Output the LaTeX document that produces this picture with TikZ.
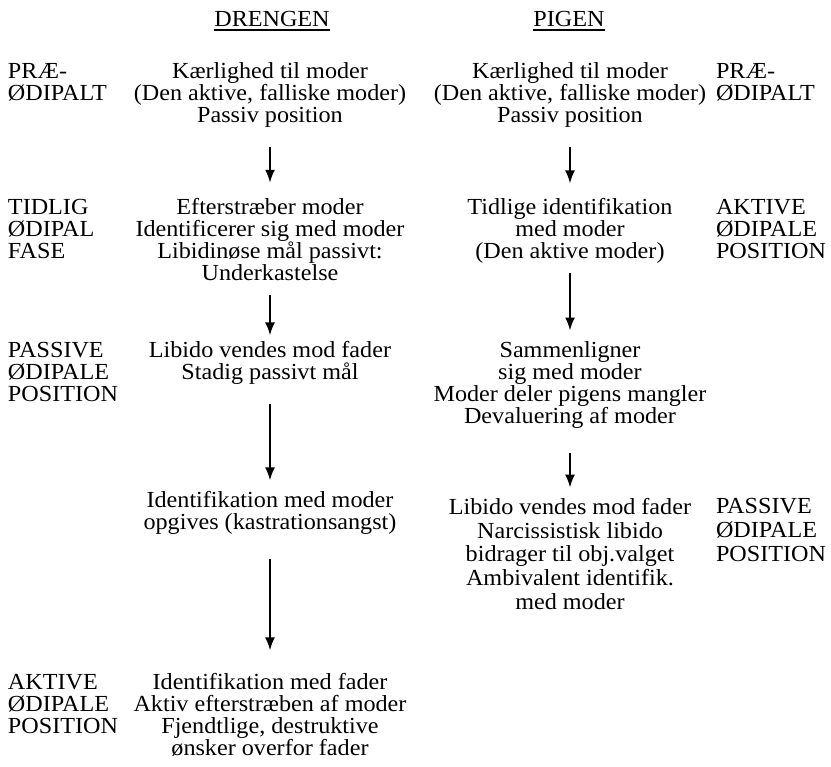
\documentclass[tikz,border=0pt]{standalone}
\usepackage{fontspec}
\setmainfont{Liberation Serif}[FakeStretch=1.05]
\usetikzlibrary{arrows.meta}
\newcommand\ulin[1]{\setbox0\hbox{#1}\rlap{\raisebox{-4.5pt}{\rule{\wd0}{1.4pt}}}\box0}
\tikzset{
  txt/.style={inner sep=0pt, outer sep=0pt, align=center, font=\fontsize{23}{22}\selectfont},
  lbl/.style={inner sep=0pt, outer sep=0pt, align=left, anchor=west, font=\fontsize{23}{22}\selectfont},
  wide/.style={font=\fontsize{23}{23.6}\selectfont},
  arr/.style={-{Latex[length=13pt,width=10pt]}, line width=2pt}
}

\begin{document}
\begin{tikzpicture}[x=1pt, y=-1pt]
\useasboundingbox (0,0) rectangle (831,767);
      \node [txt] at (272,21) (drengen) {\ulin{DRENGEN}};
       \node [txt] at (569,21) (pigen) {\ulin{PIGEN}};
%
         \node [lbl] at (8,82) (praeL) {PRÆ-\\ØDIPALT};
          \node [lbl] at (8,229) (tidlig) {TIDLIG\\ØDIPAL\\FASE};
           \node [lbl] at (8,372) (passivL) {PASSIVE\\ØDIPALE\\POSITION};
            \node [lbl] at (8,704) (aktivL) {AKTIVE\\ØDIPALE\\POSITION};
%
             \node [lbl] at (716,82) (praeR) {PRÆ-\\ØDIPALT};
              \node [lbl] at (716,229) (aktivR) {AKTIVE\\ØDIPALE\\POSITION};
               \node [lbl,wide] at (716,530) (passivR) {PASSIVE\\ØDIPALE\\POSITION};
%
\node [txt] at (270,95) (b1) {Kærlighed til moder\\(Den aktive, falliske moder)\\Passiv position};
\node [txt] at (270,240) (b2) {Efterstræber moder\\Identificerer sig med moder\\Libidinøse mål passivt:\\Underkastelse};
\node [txt] at (270,363) (b3) {Libido vendes mod fader\\Stadig passivt mål};
\node [txt] at (270,513) (b4) {Identifikation med moder\\opgives (kastrationsangst)};
\node [txt] at (270,715) (b5) {Identifikation med fader\\Aktiv efterstræben af moder\\Fjendtlige, destruktive\\ønsker overfor fader};
%
\node [txt] at (570,95) (g1) {Kærlighed til moder\\(Den aktive, falliske moder)\\Passiv position};
\node [txt] at (570,231) (g2) {Tidlige identifikation\\med moder\\(Den aktive moder)};
\node [txt] at (570,385) (g3) {Sammenligner\\sig med moder\\Moder deler pigens mangler\\Devaluering af moder};
\node [txt,wide] at (570,554) (g4) {Libido vendes mod fader\\Narcissistisk libido\\bidrager til obj.valget\\Ambivalent identifik.\\med moder};
%
%
\path[arr] (b1) edge [shorten <=20pt, shorten >=16pt] (b2);
\path[arr] (b2) edge [shorten <=14pt, shorten >=6pt] (b3);
\path[arr] (b3) edge [shorten <=19pt, shorten >=11pt] (b4);
\path[arr] (b4) edge [shorten <=24pt, shorten >=23pt] (b5);
\path[arr] (g1) edge [shorten <=20pt, shorten >=15pt] (g2);
\path[arr] (g2) edge [shorten <=9pt, shorten >=11pt] (g3);
\path[arr] (g3) edge [shorten <=25pt, shorten >=11pt] (g4);

\end{tikzpicture}
\end{document}
